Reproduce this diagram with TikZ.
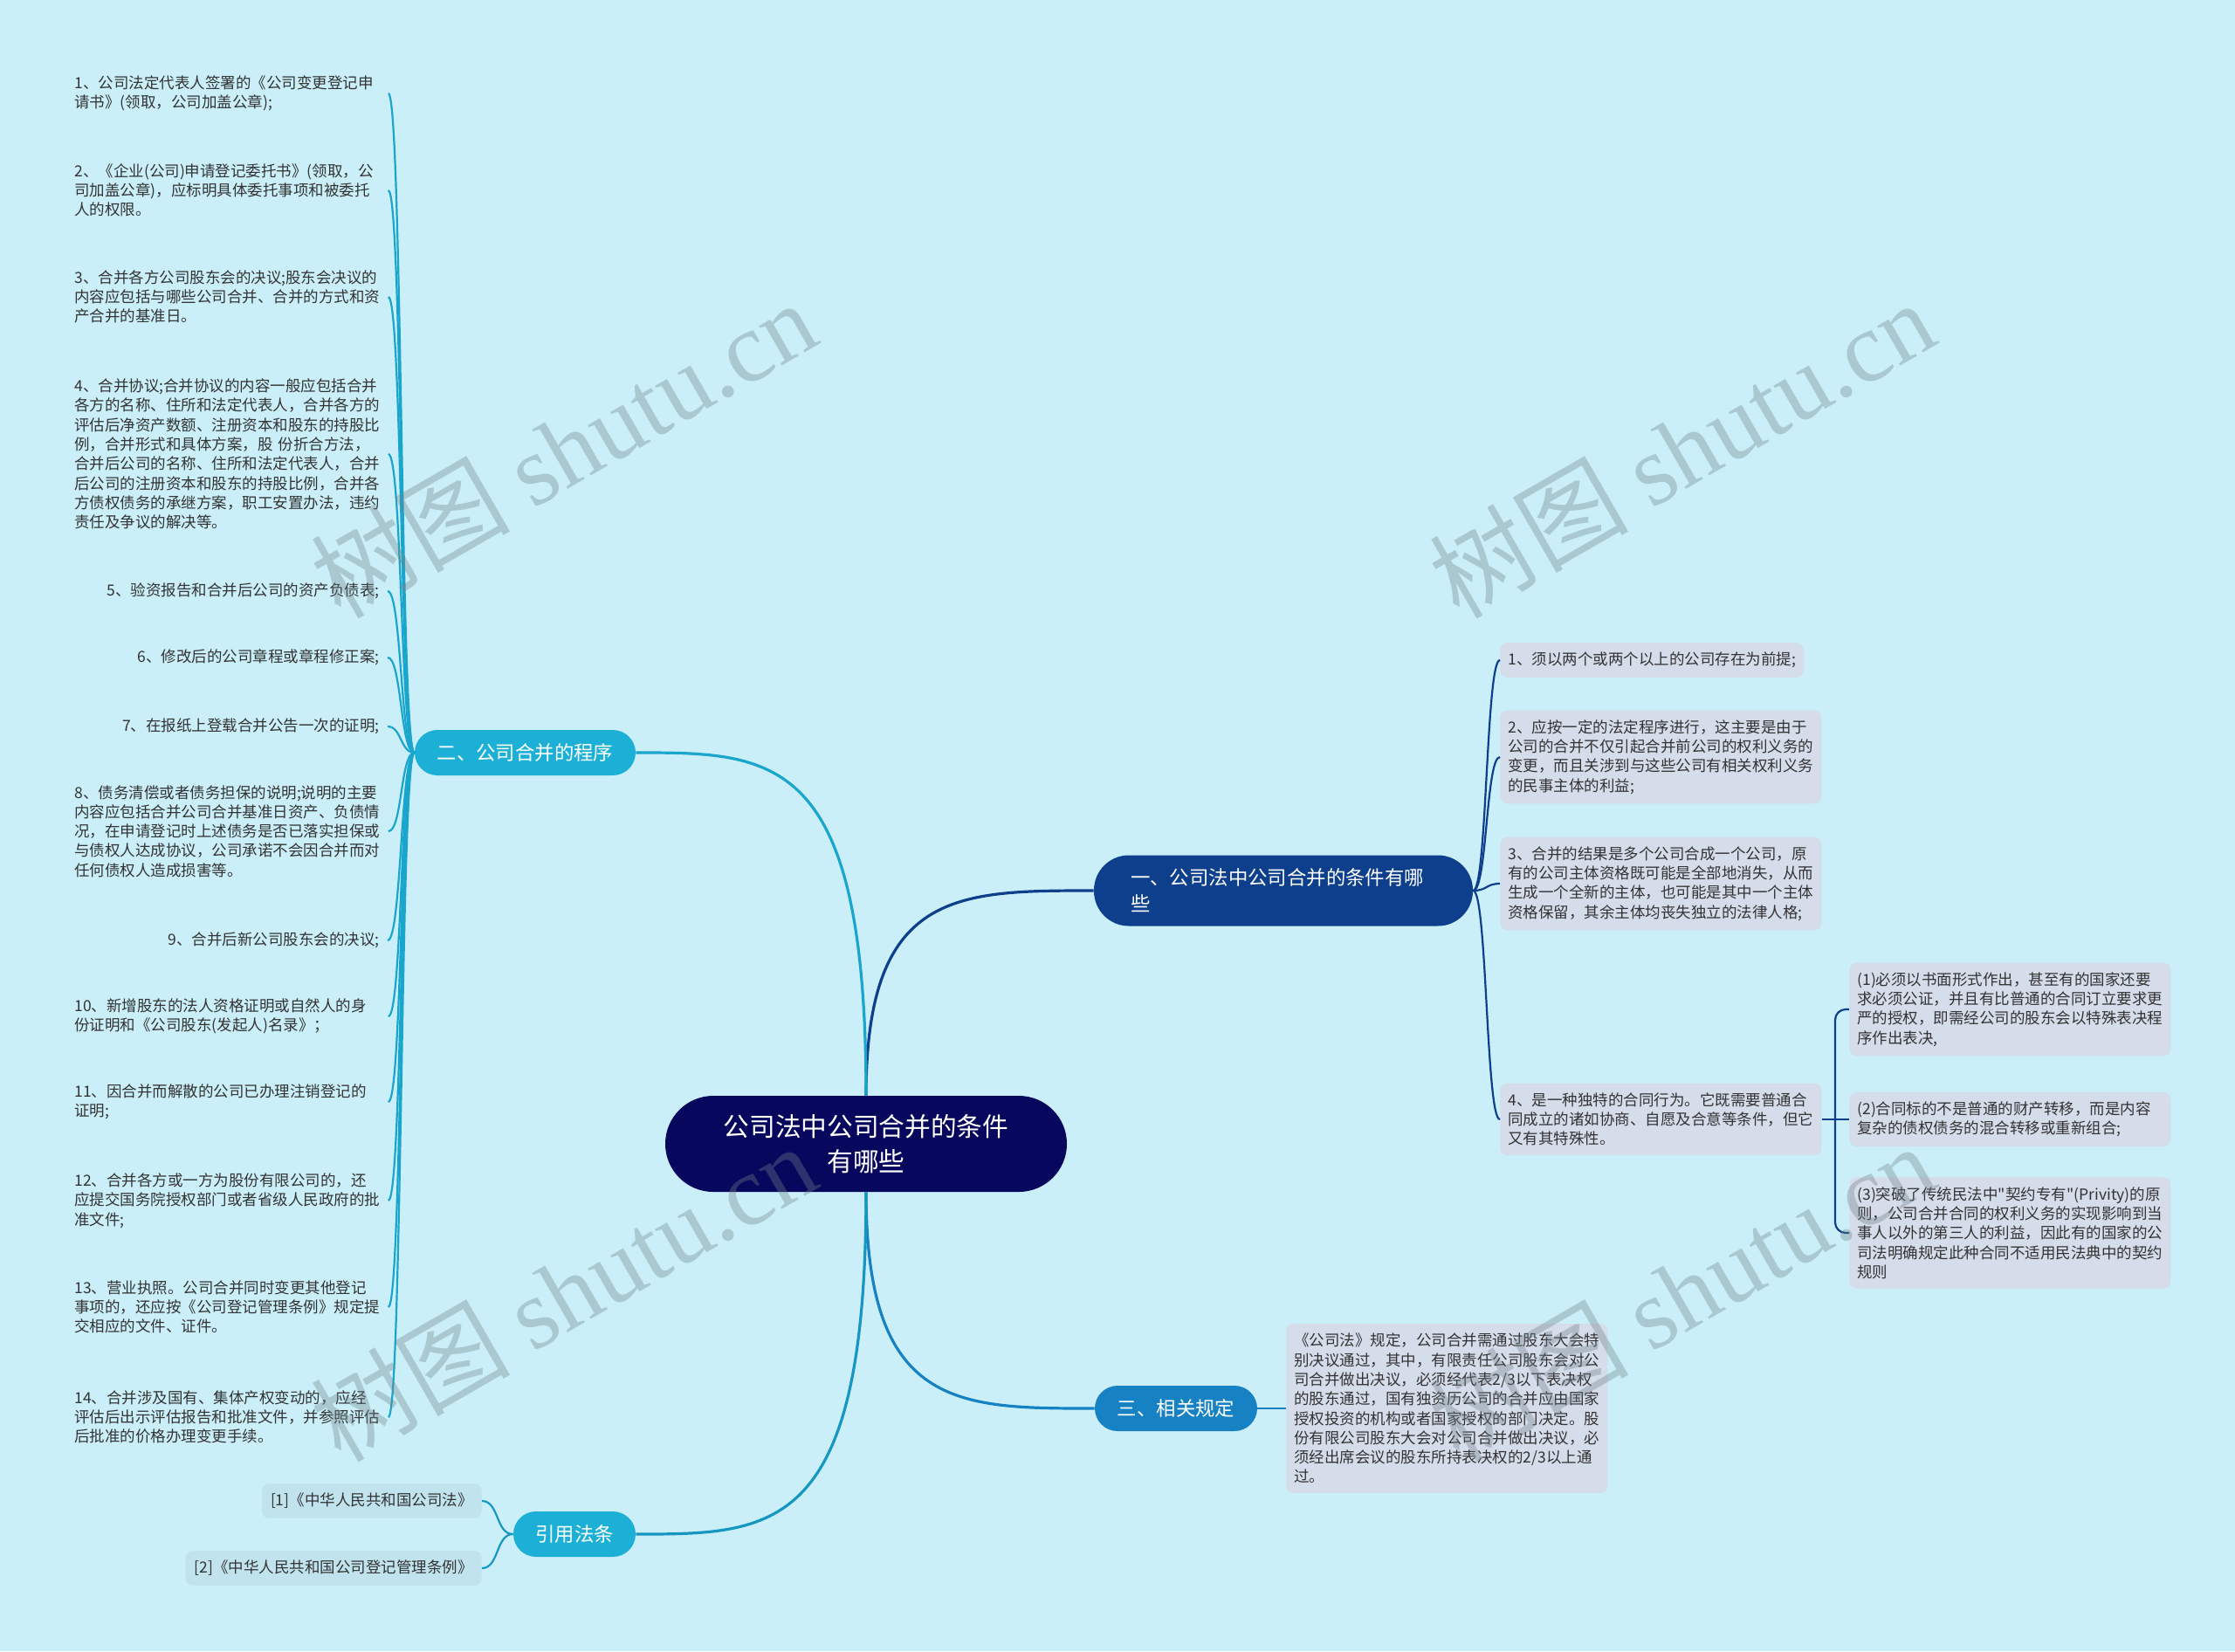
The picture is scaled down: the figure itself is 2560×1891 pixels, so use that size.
\documentclass[tikz,border=0pt]{standalone}
\usepackage{fontspec}
\setmainfont{Noto Sans CJK SC}[Ligatures=TeXOff]
\newfontfamily\cjkwm{Noto Sans CJK SC}
\newfontfamily\wmserif{Liberation Serif}
\definecolor{bg}{HTML}{CAEFF8}
\definecolor{rootc}{HTML}{07075E}
\definecolor{bone}{HTML}{0D3F8C}
\definecolor{bcyan}{HTML}{1DB0D6}
\definecolor{lcyan}{HTML}{1AA6CC}
\definecolor{bblue}{HTML}{1782C3}
\definecolor{lfour}{HTML}{1597C2}
\definecolor{leafbox}{HTML}{D5DCEA}
\definecolor{citebox}{HTML}{C0E3EE}
\definecolor{txt}{HTML}{333333}
\definecolor{wm}{HTML}{6F8389}
\tikzset{
  leaf/.style={font=\fontsize{8.75pt}{11.15pt}\selectfont, text=txt, align=left, inner xsep=4.5pt, inner ysep=5.4pt},
  leafw/.style={leaf, text width=175pt},
  boxed/.style={fill=leafbox, rounded corners=4pt},
  citenode/.style={leaf, fill=citebox, rounded corners=4pt, inner xsep=5pt},
  rootnode/.style={fill=rootc, text=white, rounded corners=27.5pt, minimum width=230pt, minimum height=55pt, inner sep=0pt, font=\fontsize{14.85pt}{20pt}\selectfont, align=center},
  brnode/.style={text=white, font=\fontsize{11.2pt}{15pt}\selectfont, minimum height=26pt, rounded corners=13pt, inner xsep=0pt, inner ysep=0pt},
  mainline/.style={line width=1.6pt},
  subline/.style={line width=1.1pt},
  wmark/.style={text=wm, opacity=0.36, rotate=30, inner sep=0pt}
}
\begin{document}
\begin{tikzpicture}[x=0.5pt,y=-0.5pt]
\useasboundingbox (0,0) rectangle (2560,1891);
\fill[bg] (0,0) rectangle (2560,1891);

% root and branches
\node[rootnode] (root) at (992,1310) {公司法中公司合并的条件\\有哪些};
\node[brnode, fill=bone, text width=175pt, inner xsep=21pt, minimum height=40.5pt, rounded corners=20pt, align=left] (b1) at (1470,1020) {一、公司法中公司合并的条件有哪\\些};
\node[brnode, fill=bcyan, minimum width=126.5pt] (b2) at (601.5,862) {二、公司合并的程序};
\node[brnode, fill=bblue, minimum width=93pt] (b3) at (1347,1613) {三、相关规定};
\node[brnode, fill=bcyan, minimum width=70pt] (b4) at (658,1757) {引用法条};

% main connectors
\draw[mainline, bone] (root.north) .. controls +(0,-235) and +(-157,0) .. (b1.west);
\draw[mainline, lcyan] (root.north) .. controls +(0,-393) and +(158,0) .. (b2.east);
\draw[mainline, bblue] (root.south) .. controls +(0,248) and +(-157,0) .. (b3.west);
\draw[mainline, lfour] (root.south) .. controls +(0,392) and +(158,0) .. (b4.east);

% left leaves (branch 2)
\node[leafw, anchor=west] (L1) at (76,107) {1、公司法定代表人签署的《公司变更登记申\\请书》(领取，公司加盖公章);};
\node[leafw, anchor=west] (L2) at (76,218) {2、《企业(公司)申请登记委托书》(领取，公\\司加盖公章)，应标明具体委托事项和被委托\\人的权限。};
\node[leafw, anchor=west] (L3) at (76,340) {3、合并各方公司股东会的决议;股东会决议的\\内容应包括与哪些公司合并、合并的方式和资\\产合并的基准日。};
\node[leafw, anchor=west] (L4) at (76,520) {4、合并协议;合并协议的内容一般应包括合并\\各方的名称、住所和法定代表人，合并各方的\\评估后净资产数额、注册资本和股东的持股比\\例，合并形式和具体方案，股 份折合方法，\\合并后公司的名称、住所和法定代表人，合并\\后公司的注册资本和股东的持股比例，合并各\\方债权债务的承继方案，职工安置办法，违约\\责任及争议的解决等。};
\node[leaf, anchor=east] (L5) at (444,677) {5、验资报告和合并后公司的资产负债表;};
\node[leaf, anchor=east] (L6) at (444,753) {6、修改后的公司章程或章程修正案;};
\node[leaf, anchor=east] (L7) at (444,832) {7、在报纸上登载合并公告一次的证明;};
\node[leafw, anchor=west] (L8) at (76,952) {8、债务清偿或者债务担保的说明;说明的主要\\内容应包括合并公司合并基准日资产、负债情\\况，在申请登记时上述债务是否已落实担保或\\与债权人达成协议，公司承诺不会因合并而对\\任何债权人造成损害等。};
\node[leaf, anchor=east] (L9) at (444,1077) {9、合并后新公司股东会的决议;};
\node[leafw, anchor=west] (L10) at (76,1164) {10、新增股东的法人资格证明或自然人的身\\份证明和《公司股东(发起人)名录》；};
\node[leafw, anchor=west] (L11) at (76,1262) {11、因合并而解散的公司已办理注销登记的\\证明;};
\node[leafw, anchor=west] (L12) at (76,1375) {12、合并各方或一方为股份有限公司的，还\\应提交国务院授权部门或者省级人民政府的批\\准文件;};
\node[leafw, anchor=west] (L13) at (76,1497) {13、营业执照。公司合并同时变更其他登记\\事项的，还应按《公司登记管理条例》规定提\\交相应的文件、证件。};
\node[leafw, anchor=west] (L14) at (76,1623) {14、合并涉及国有、集体产权变动的，应经\\评估后出示评估报告和批准文件，并参照评估\\后批准的价格办理变更手续。};
\foreach \n in {L1,L2,L3,L4,L5,L6,L7,L8,L9,L10,L11,L12,L13,L14}{
  \draw[subline, lcyan] (b2.west) .. controls +(-16,0) and +(16,0) .. (\n.east);
}

% right leaves (branch 1)
\node[leaf, boxed, anchor=west] (r1) at (1718,756) {1、须以两个或两个以上的公司存在为前提;};
\node[leafw, boxed, anchor=west] (r2) at (1718,867) {2、应按一定的法定程序进行，这主要是由于\\公司的合并不仅引起合并前公司的权利义务的\\变更，而且关涉到与这些公司有相关权利义务\\的民事主体的利益;};
\node[leafw, boxed, anchor=west] (r3) at (1718,1012) {3、合并的结果是多个公司合成一个公司，原\\有的公司主体资格既可能是全部地消失，从而\\生成一个全新的主体，也可能是其中一个主体\\资格保留，其余主体均丧失独立的法律人格;};
\node[leafw, boxed, anchor=west] (r4) at (1718,1282) {4、是一种独特的合同行为。它既需要普通合\\同成立的诸如协商、自愿及合意等条件，但它\\又有其特殊性。};
\foreach \n in {r1,r2,r3,r4}{
  \draw[subline, bone] (b1.east) .. controls +(16,0) and +(-16,0) .. (\n.west);
}

% sub-leaves of r4
\node[leafw, boxed, anchor=west] (s1) at (2118,1156) {(1)必须以书面形式作出，甚至有的国家还要\\求必须公证，并且有比普通的合同订立要求更\\严的授权，即需经公司的股东会以特殊表决程\\序作出表决,};
\node[leafw, boxed, anchor=west] (s2) at (2118,1282) {(2)合同标的不是普通的财产转移，而是内容\\复杂的债权债务的混合转移或重新组合;};
\node[leafw, boxed, anchor=west] (s3) at (2118,1412) {(3)突破了传统民法中"契约专有"(Privity)的原\\则，公司合并合同的权利义务的实现影响到当\\事人以外的第三人的利益，因此有的国家的公\\司法明确规定此种合同不适用民法典中的契约\\规则};
\coordinate (j4) at (2102,1282);
\draw[subline, bone] (r4.east) -- (j4) -- (s2.west);
\draw[subline, bone, rounded corners=6pt] (j4) |- (s1.west);
\draw[subline, bone, rounded corners=6pt] (j4) |- (s3.west);

% branch 3 leaf
\node[leafw, boxed, anchor=west] (t1) at (1473,1613) {《公司法》规定，公司合并需通过股东大会特\\别决议通过，其中，有限责任公司股东会对公\\司合并做出决议，必须经代表2/3以下表决权\\的股东通过，国有独资历公司的合并应由国家\\授权投资的机构或者国家授权的部门决定。股\\份有限公司股东大会对公司合并做出决议，必\\须经出席会议的股东所持表决权的2/3以上通\\过。};
\draw[subline, bblue] (b3.east) -- (t1.west);

% branch 4 leaves
\node[citenode, anchor=east] (c1) at (552,1719) {[1]《中华人民共和国公司法》};
\node[citenode, anchor=east] (c2) at (552,1796) {[2]《中华人民共和国公司登记管理条例》};
\foreach \n in {c1,c2}{
  \draw[subline, lfour] (b4.west) .. controls +(-20,0) and +(20,0) .. (\n.east);
}

% watermarks
\node[wmark] (w1) at (645,514) {\fontsize{57pt}{60pt}\selectfont\cjkwm 树图 \wmserif shutu.cn};
\node[wmark] (w2) at (1926,514) {\fontsize{57pt}{60pt}\selectfont\cjkwm 树图 \wmserif shutu.cn};
\node[wmark] (w3) at (645,1480) {\fontsize{57pt}{60pt}\selectfont\cjkwm 树图 \wmserif shutu.cn};
\node[wmark] (w4) at (1926,1480) {\fontsize{57pt}{60pt}\selectfont\cjkwm 树图 \wmserif shutu.cn};
\end{tikzpicture}
\end{document}
